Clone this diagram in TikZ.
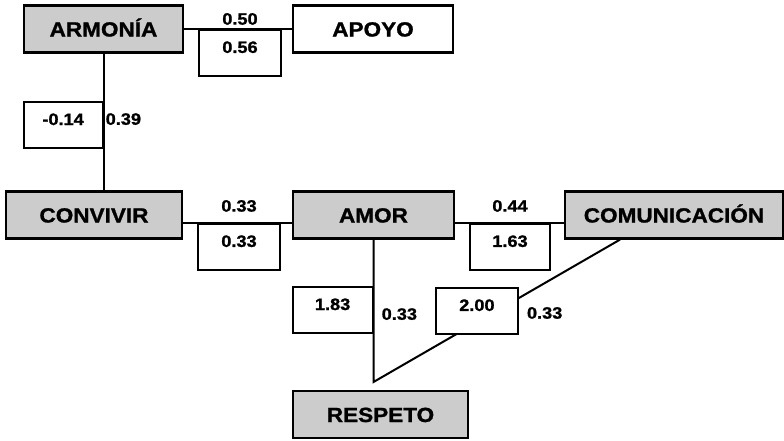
\documentclass[tikz,border=0pt]{standalone}
\usepackage{fontspec}
\setmainfont{Liberation Sans}[FakeStretch=1.1, BoldFeatures={FakeBold=1.2}]
\usetikzlibrary{positioning}

\begin{document}
\begin{tikzpicture}[
    x=1pt, y=-1pt,
    concept/.style={draw, line width=2.2pt, align=center, inner sep=0pt, text height=15pt, text depth=0pt, minimum height=47pt, font=\fontsize{20.5}{22}\selectfont\bfseries, fill=black!20},
    plain/.style={concept, fill=white},
    weight/.style={draw, line width=1.8pt, fill=white, inner xsep=0pt, inner ysep=4pt, text height=19pt, text depth=19pt, minimum width=81pt, font=\fontsize{16.5}{18}\selectfont\bfseries},
    value/.style={inner sep=1pt, font=\fontsize{16.5}{18}\selectfont\bfseries},
    link/.style={line width=2pt}
]
\useasboundingbox (0,0) rectangle (784,440);

\node[concept, minimum width=159pt] (armonia) at (103.5,29) {ARMONÍA};
\node[plain, minimum width=160pt] (apoyo) at (373,29) {APOYO};
\node[concept, minimum width=176pt] (convivir) at (94,215) {CONVIVIR};
\node[concept, minimum width=161pt] (amor) at (373.5,215) {AMOR};
\node[concept, minimum width=218pt] (comunicacion) at (674,215) {COMUNICACIÓN};
\node[concept, minimum width=175pt] (respeto) at (380.5,414.5) {RESPETO};
\coordinate (meet) at (373.5,382);

\draw[link] (armonia) -- (apoyo);
\draw[link] (armonia.south) -- (armonia.south |- convivir.north);
\draw[link] ([yshift=-8pt]convivir.east) -- ([yshift=-8pt]amor.west);
\draw[link] ([yshift=-8pt]amor.east) -- ([yshift=-8pt]comunicacion.west);
\draw[link] (amor.south) -- (meet) -- ([xshift=-54pt]comunicacion.south);

\node[weight, minimum width=82pt, below right=0pt and 14pt of armonia.east] (w056) {0.56};
\node[weight, minimum width=79pt, below left=47.5pt and 0pt of armonia.south] (w014) {-0.14};
\node[weight, minimum width=82pt, anchor=north west] (w033) at ([xshift=14pt, yshift=-8pt]convivir.east) {0.33};
\node[weight, minimum width=80pt, anchor=north west] (w163) at ([xshift=14pt, yshift=-8pt]amor.east) {1.63};
\node[weight, minimum width=80pt, anchor=north east] (w183) at ([yshift=-46.5pt]amor.south) {1.83};
\node[weight, minimum width=82pt, anchor=north west] (w200) at (435,287) {2.00};

\node[value, above=3pt of w056] (v050) {0.50};
\node[value, anchor=west] (v039) at ([xshift=1pt, yshift=-18pt]w014.north east) {0.39};
\node[value, above=10pt of w033] (v033) {0.33};
\node[value, above=10pt of w163] (v044) {0.44};
\node[value, anchor=west] (v033b) at ([xshift=7pt, yshift=-28pt]w183.north east) {0.33};
\node[value, anchor=west] (v033c) at ([xshift=7pt, yshift=-26pt]w200.north east) {0.33};
\end{tikzpicture}
\end{document}
